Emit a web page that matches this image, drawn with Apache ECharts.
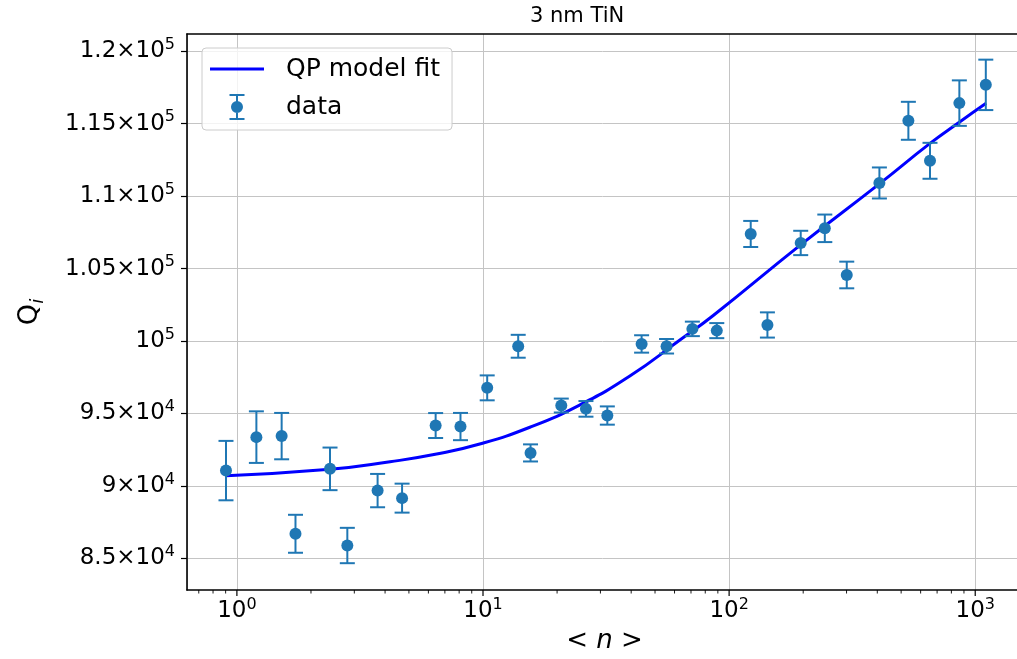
<!DOCTYPE html>
<html>
<head>
<meta charset="utf-8">
<script src="https://cdn.jsdelivr.net/npm/echarts@6/dist/echarts.min.js"></script>
<style>html,body{margin:0;padding:0;background:#fff;overflow:hidden}#c{width:1017px;height:659px}</style>
</head>
<body>
<div id="c"></div>
<script>
// ---- data ----
const nValues = [0.903, 1.20, 1.52, 1.73, 2.39, 2.81, 3.73, 4.69, 6.42, 8.10, 10.4, 13.9, 15.6, 20.8, 26.2, 32.0, 44.1, 55.7, 70.9, 89.1, 122.4, 143.1, 195.4, 244.8, 300.6, 408, 535, 655, 862, 1104];
const qValues = [91060, 93370, 93440, 86700, 91180, 85890, 89680, 89160, 94170, 94100, 96770, 99640, 92280, 95550, 95320, 94860, 99800, 99640, 100840, 100720, 107390, 101110, 106770, 107780, 104560, 110910, 115200, 112440, 116420, 117680];
const qErrors = [2050, 1780, 1600, 1310, 1470, 1220, 1150, 1000, 860, 940, 860, 790, 590, 480, 540, 630, 600, 500, 500, 520, 900, 870, 840, 950, 920, 1070, 1310, 1240, 1570, 1740];
const fitN = [0.903, 2.39, 4.19, 6.48, 9.70, 15.5, 24.8, 39.5, 63.1, 86.2, 194, 410, 655, 867, 1107];
const fitQ = [90704, 91146, 91670, 92200, 92892, 94050, 95600, 97585, 100069, 101760, 106600, 110880, 113640, 115135, 116404];
const yTicks = [85000, 90000, 95000, 100000, 105000, 110000, 115000, 120000];
const xMinorTicks = [0.7, 0.8, 0.9, 2, 3, 4, 5, 6, 7, 8, 9, 20, 30, 40, 50, 60, 70, 80, 90, 200, 300, 400, 500, 600, 700, 800, 900];
const xMajorTicks = [1, 10, 100, 1000];

const X_MIN = 0.627, X_MAX = 1549, Y_MIN = 82820, Y_MAX = 121190;
const FONT = 'DejaVu Sans';
const BLUE = '#1f77b4';

const LINE_ICON = 'path://M0,0 M71,28 M0,12.5 H54 V15.5 H0 Z';
const ERR_ICON = 'path://M0,0 M71,28 M19.5,1 H34.5 V3 H19.5 Z M26,1 H28 V27 H26 Z M19.5,25 H34.5 V27 H19.5 Z M27,8 A6,6 0 1,1 27,20 A6,6 0 1,1 27,8 Z';

const errData = nValues.map((n, i) => [n, qValues[i], qErrors[i]]);
const fitData = fitN.map((n, i) => [n, fitQ[i]]);
const tickData = xMinorTicks.map(v => [v, Y_MIN, 0]).concat(xMajorTicks.map(v => [v, Y_MIN, 1]));

function yLabel(v) {
  const e = Math.floor(Math.log10(v) + 1e-9);
  const m = Math.round(v / Math.pow(10, e) * 100) / 100;
  if (m === 1) return '{b|10}{s|' + e + '}';
  return '{b|' + m + '×10}{s|' + e + '}';
}
const supRich = {
  b: {fontSize: 23, fontFamily: FONT, color: '#000', lineHeight: 29},
  s: {fontSize: 16, fontFamily: FONT, color: '#000', lineHeight: 16, verticalAlign: 'top'}
};

const chart = echarts.init(document.getElementById('c'), null, {renderer: 'canvas'});
chart.setOption({
  animation: false,
  backgroundColor: '#fff',
  title: {
    text: '3 nm TiN', left: 530, top: 6, padding: 0,
    textStyle: {fontFamily: FONT, fontSize: 21, fontWeight: 'normal', color: '#000'}
  },
  legend: {
    left: 202, top: 48, orient: 'vertical', padding: [7, 12, 9, 8], itemGap: 10,
    itemWidth: 71, itemHeight: 28, selectedMode: false,
    backgroundColor: 'rgba(255,255,255,0.8)', borderColor: '#cccccc', borderWidth: 1, borderRadius: 4,
    textStyle: {fontFamily: FONT, fontSize: 25, color: '#000'},
    data: [{name: 'QP model fit', icon: LINE_ICON}, {name: 'data', icon: ERR_ICON}]
  },
  grid: {left: 187, right: -5, top: 34, bottom: 69, show: false, outerBoundsMode: 'none', containLabel: false},
  xAxis: [{
    type: 'log', min: X_MIN, max: X_MAX, logBase: 10,
    axisLine: {show: true, lineStyle: {color: '#000', width: 1.6}},
    axisTick: {show: false},
    splitLine: {show: true, lineStyle: {color: '#c4c4c4', width: 1}},
    axisLabel: {
      showMinLabel: false, showMaxLabel: false, margin: 7,
      formatter: v => '{b|10}{s|' + Math.round(Math.log10(v)) + '}',
      rich: supRich
    },
    name: '< {it|n} >', nameLocation: 'middle', nameGap: 38,
    nameTextStyle: {fontFamily: FONT, fontSize: 26, color: '#000',
      rich: {it: {fontFamily: FONT, fontSize: 26, fontStyle: 'italic', color: '#000'}}}
  }, {
    type: 'log', min: X_MIN, max: X_MAX, logBase: 10, position: 'top',
    axisLine: {show: true, onZero: false, lineStyle: {color: '#000', width: 1.6}},
    axisTick: {show: false}, axisLabel: {show: false}, splitLine: {show: false}
  }],
  yAxis: {
    type: 'value', min: Y_MIN, max: Y_MAX,
    axisLine: {show: true, lineStyle: {color: '#000', width: 1.6}},
    axisTick: {show: true, length: 6, lineStyle: {color: '#000', width: 1.2}, customValues: yTicks},
    splitLine: {show: true, lineStyle: {color: '#c4c4c4', width: 1}},
    axisLabel: {customValues: yTicks, margin: 12, formatter: yLabel, rich: supRich},
    name: 'Q{sub|i}', nameLocation: 'middle', nameRotate: 90, nameGap: 140,
    nameTextStyle: {fontFamily: FONT, fontSize: 27, color: '#000', lineHeight: 34,
      rich: {sub: {fontFamily: FONT, fontSize: 18, fontStyle: 'italic', color: '#000', lineHeight: 18, verticalAlign: 'bottom'}}}
  },
  series: [
    {
      name: 'QP model fit', type: 'line', data: fitData, showSymbol: false, smooth: true,
      lineStyle: {color: '#0000ff', width: 3}, itemStyle: {color: '#0000ff'}, z: 3
    },
    {
      name: 'data', type: 'custom', data: errData, encode: {x: 0, y: 1}, z: 4,
      itemStyle: {color: BLUE},
      renderItem: function (params, api) {
        const n = api.value(0), q = api.value(1), e = api.value(2);
        const c = api.coord([n, q]);
        const t = api.coord([n, q + e]);
        const b = api.coord([n, q - e]);
        const hw = 7.5;
        const ls = {stroke: BLUE, lineWidth: 2};
        return {
          type: 'group',
          children: [
            {type: 'line', shape: {x1: c[0], y1: t[1], x2: c[0], y2: b[1]}, style: ls},
            {type: 'line', shape: {x1: c[0] - hw, y1: t[1], x2: c[0] + hw, y2: t[1]}, style: ls},
            {type: 'line', shape: {x1: c[0] - hw, y1: b[1], x2: c[0] + hw, y2: b[1]}, style: ls},
            {type: 'circle', shape: {cx: c[0], cy: c[1], r: 6}, style: {fill: BLUE}}
          ]
        };
      }
    },
    {
      name: 'ticks', type: 'custom', data: tickData, encode: {x: 0, y: 1}, silent: true, clip: false, z: 5,
      renderItem: function (params, api) {
        const p = api.coord([api.value(0), api.value(1)]);
        const bottom = params.coordSys.y + params.coordSys.height;
        const len = api.value(2) ? 6 : 3.5;
        return {type: 'line', shape: {x1: p[0], y1: bottom, x2: p[0], y2: bottom + len},
          style: {stroke: '#000', lineWidth: api.value(2) ? 1.2 : 0.9}};
      }
    }
  ]
});
</script>
</body>
</html>
